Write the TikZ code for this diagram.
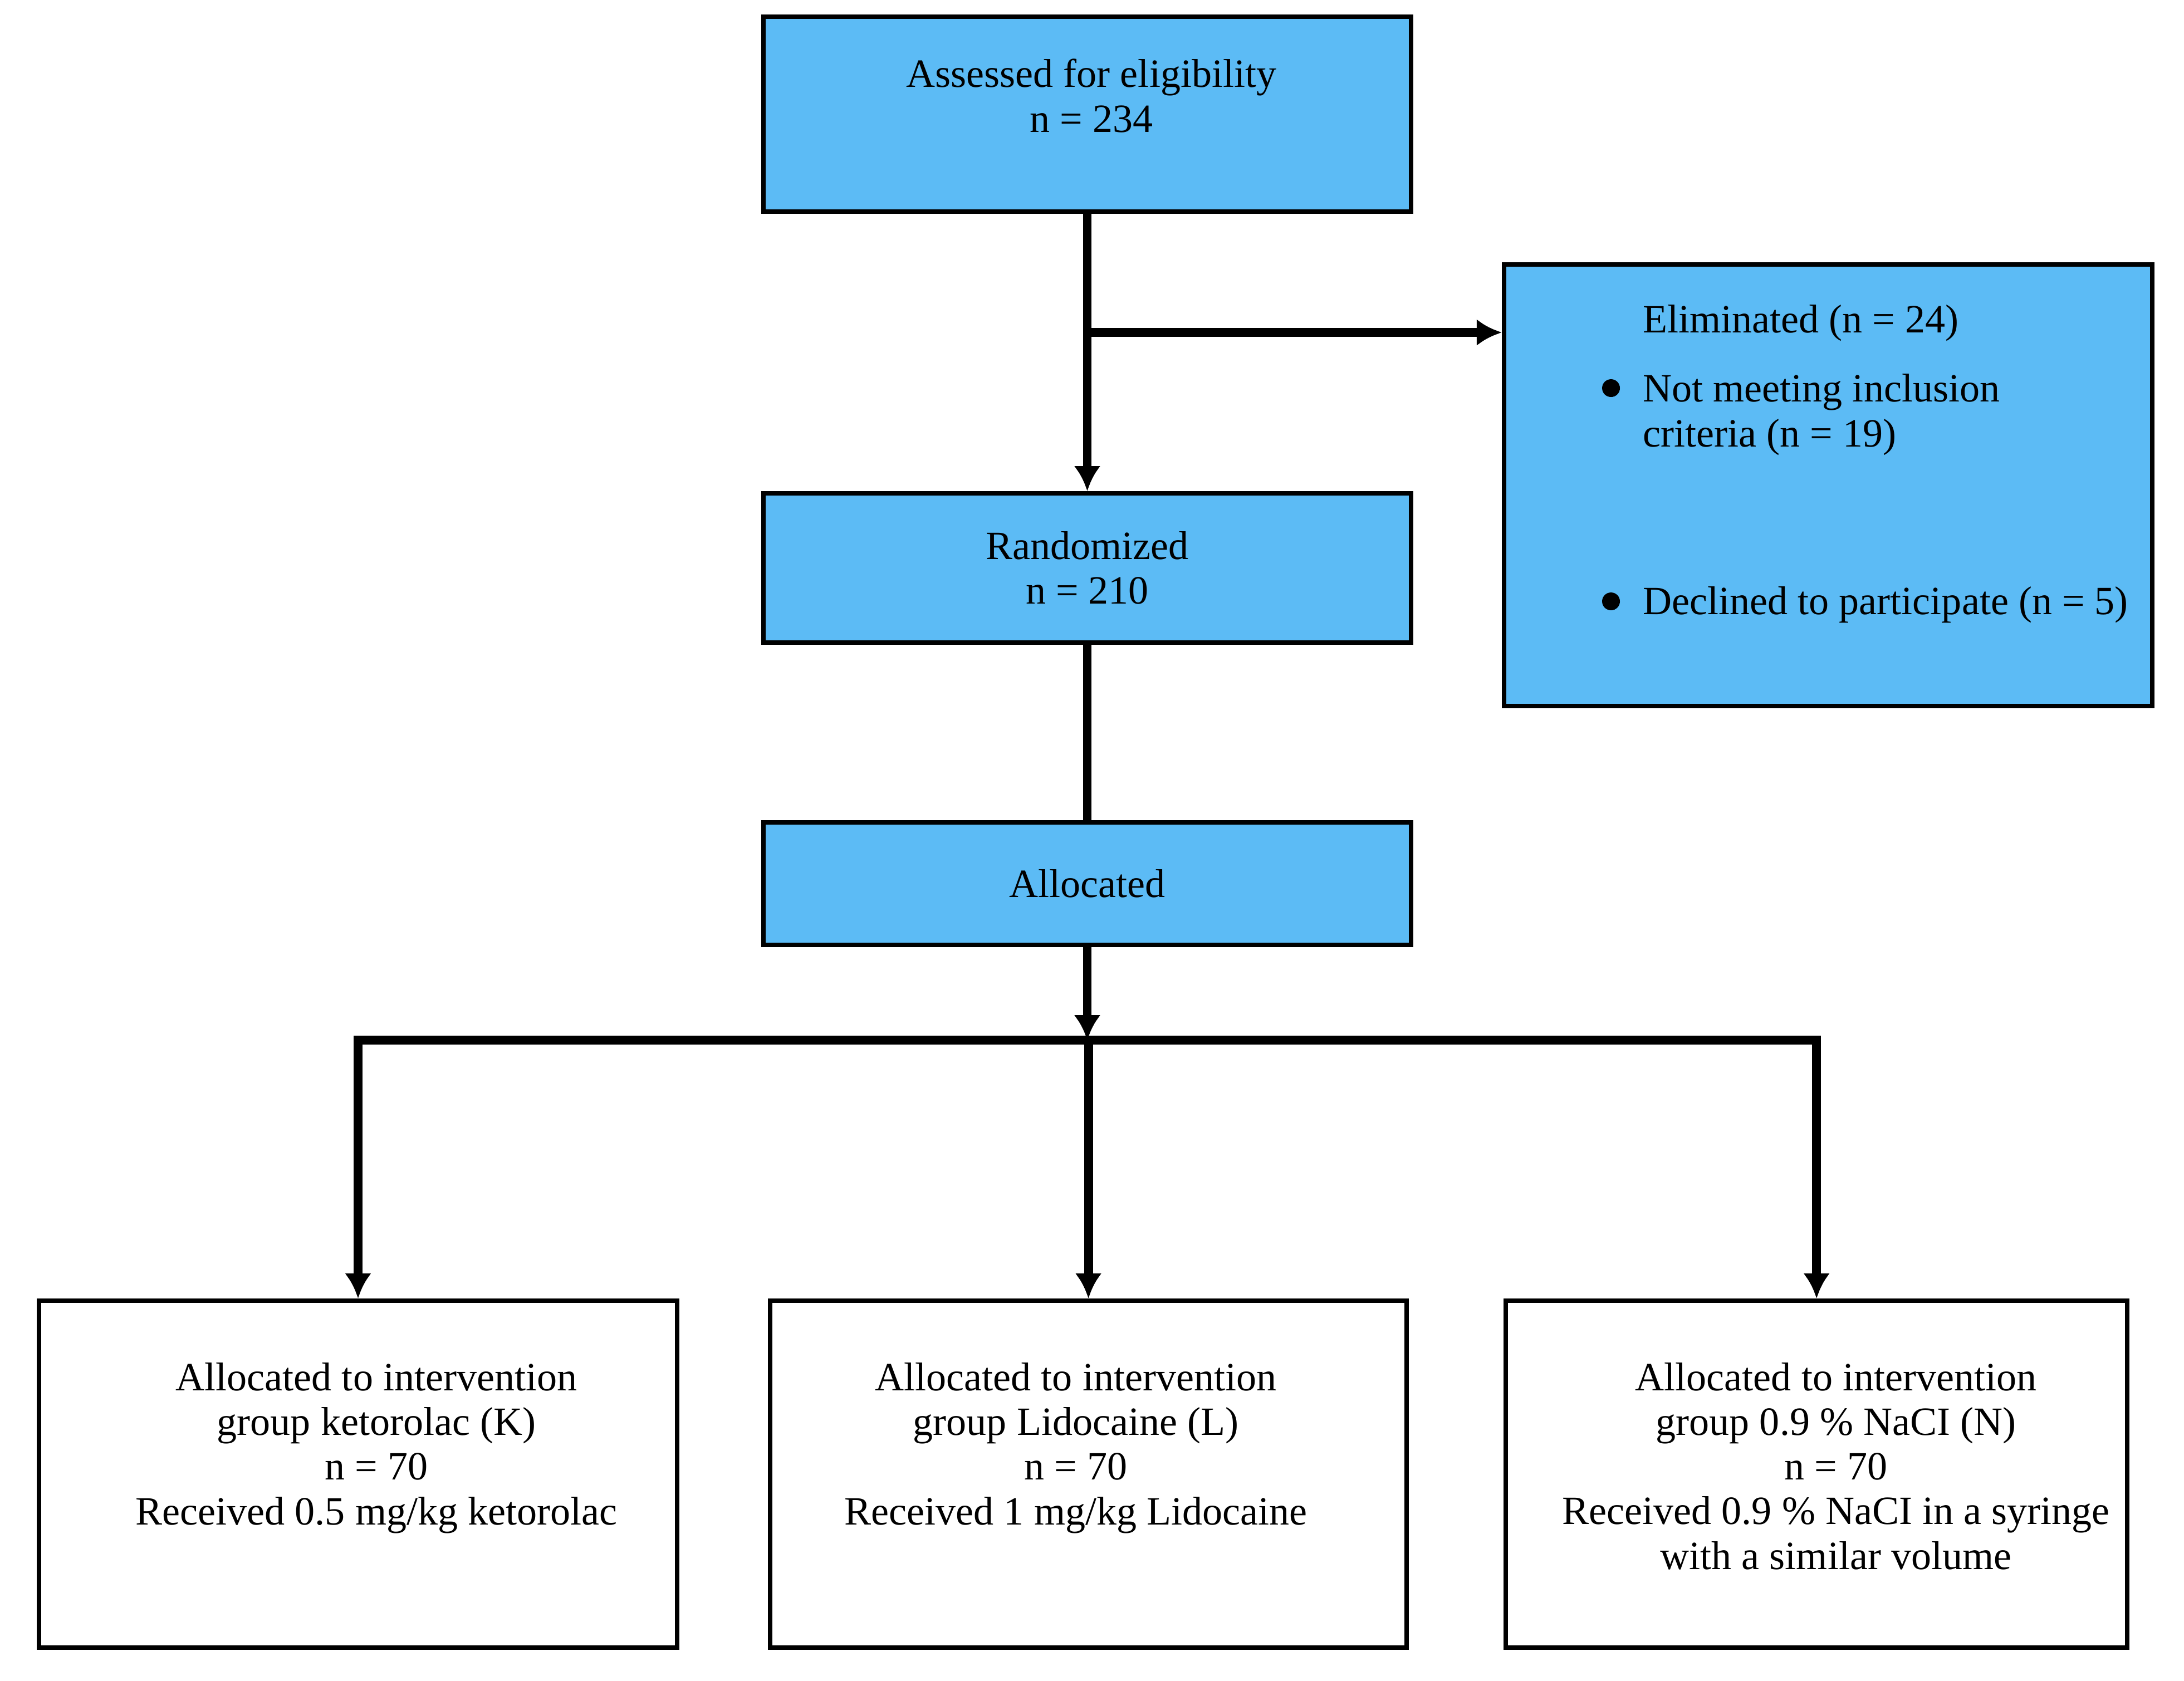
\documentclass[tikz,border=0pt]{standalone}
\usepackage{fontspec}
\setmainfont{Liberation Serif}
\usepackage{xcolor}
\usetikzlibrary{arrows.meta,positioning}
\definecolor{boxblue}{RGB}{92,187,245}

\begin{document}
\begin{tikzpicture}[
      node distance=5cm and 1.7cm,
      box/.style={draw=black, line width=2.3pt, inner sep=0pt, minimum width=11.6cm},
      bluebox/.style={box, fill=boxblue},
      whitebox/.style={box, fill=white, minimum height=6.23cm},
      txt/.style={font=\fontsize{20.5}{22.8}\selectfont, align=center, inner sep=0pt},
      dot/.style={circle, fill=black, inner sep=0pt, minimum size=0.32cm},
      arrow/.style={-{Latex[length=4.5mm, width=4.8mm]}, line width=4.5pt},
      link/.style={line width=4.5pt},
      bar/.style={line width=4.5pt, line cap=rect}
    ]
    \useasboundingbox (0,0) rectangle (39.22,-30.18);

    \node[bluebox, minimum width=11.63cm, minimum height=3.5cm] (assess) at (19.525,-2.05) {};
    \node[txt, anchor=base] (assessText) at (19.60,-2.37) {Assessed for eligibility\\n = 234};
    \node[bluebox, txt, minimum width=11.63cm, minimum height=2.68cm, below=4.98cm of assess] (rand)
      {Randomized\\n = 210};
    \node[bluebox, txt, minimum width=11.63cm, minimum height=2.2cm, below=3.15cm of rand] (alloc)
      {Allocated};

    \node[bluebox, minimum width=11.64cm, minimum height=7.93cm] (elim) at (32.83,-8.715) {};
    \node[txt, anchor=base west, align=left] (elimTitle) at (29.50,-5.97) {Eliminated (n = 24)};
    \node[txt, anchor=base west, align=left] (elimNot) at (29.50,-8.02)
      {Not meeting inclusion\\criteria (n = 19)};
    \node[txt, anchor=base west, align=left] (elimDecl) at (29.50,-11.03)
      {Declined to participate (n = 5)};
    \node[dot] (dotNot) at (28.93,-6.97) {};
    \node[dot] (dotDecl) at (28.93,-10.80) {};

    \node[whitebox, minimum width=11.46cm] (kBox) at (6.43,-26.475) {};
    \node[whitebox, minimum width=11.43cm, right=1.59cm of kBox] (lBox) {};
    \node[whitebox, minimum width=11.16cm, right=1.70cm of lBox] (nBox) {};
    \node[txt, anchor=base] (kText) at (6.76,-27.38)
      {Allocated to intervention\\group ketorolac (K)\\n = 70\\Received 0.5 mg/kg ketorolac};
    \node[txt, anchor=base] (lText) at (19.32,-27.38)
      {Allocated to intervention\\group Lidocaine (L)\\n = 70\\Received 1 mg/kg Lidocaine};
    \node[txt, anchor=base] (nText) at (32.97,-28.18)
      {Allocated to intervention\\group 0.9 \% NaCI (N)\\n = 70\\Received 0.9 \% NaCI in a syringe\\with a similar volume};

    \coordinate[below=2.13cm of assess] (split);
    \coordinate[below=1.67cm of alloc] (hub);

    \draw[arrow] (assess.south) -- (rand.north);
    \draw[arrow] (split) -- (split -| elim.west);
    \draw[link] (rand.south) -- (alloc.north);
    \draw[arrow] (alloc.south) -- (hub);
    \draw[bar] (kBox.north |- hub) -- (nBox.north |- hub);
    \foreach \b in {kBox,lBox,nBox}
      \draw[arrow] (\b.north |- hub) -- (\b.north);
  \end{tikzpicture}
\end{document}
